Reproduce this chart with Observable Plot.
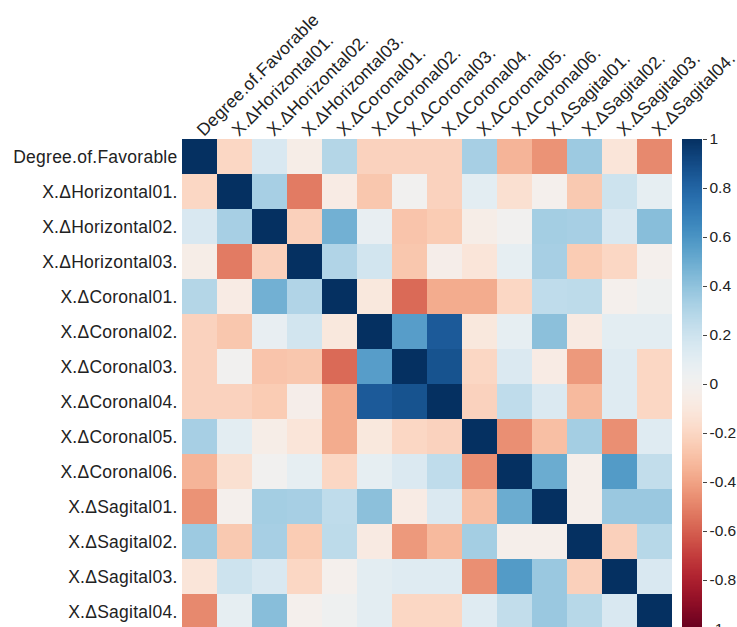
<!DOCTYPE html>
<html>
<head>
<meta charset="utf-8">
<script src="https://cdn.jsdelivr.net/npm/d3@7"></script>
<script src="https://cdn.jsdelivr.net/npm/@observablehq/plot@0.6"></script>
<style>
  html, body { margin: 0; padding: 0; background: #fff; overflow: hidden; }
  #wrap { position: relative; width: 737px; height: 627px; overflow: hidden; }
  #wrap svg { position: absolute; left: 0; top: 0; }
</style>
</head>
<body>
<div id="wrap"></div>
<script>
const variables = [
  "Degree.of.Favorable",
  "X.ΔHorizontal01.", "X.ΔHorizontal02.", "X.ΔHorizontal03.",
  "X.ΔCoronal01.", "X.ΔCoronal02.", "X.ΔCoronal03.", "X.ΔCoronal04.", "X.ΔCoronal05.", "X.ΔCoronal06.",
  "X.ΔSagital01.", "X.ΔSagital02.", "X.ΔSagital03.", "X.ΔSagital04."
];

const rowDegree       = [1, -0.2, 0.15, -0.05, 0.29, -0.22, -0.22, -0.22, 0.33, -0.34, -0.45, 0.36, -0.12, -0.48];
const rowHorizontal01 = [-0.2, 1, 0.33, -0.52, -0.07, -0.27, 0.01, -0.22, 0.1, -0.15, -0.02, -0.26, 0.2, 0.08];
const rowHorizontal02 = [0.15, 0.33, 1, -0.23, 0.48, 0.07, -0.28, -0.25, -0.05, 0.01, 0.34, 0.33, 0.15, 0.42];
const rowHorizontal03 = [-0.05, -0.52, -0.23, 1, 0.3, 0.18, -0.27, -0.04, -0.12, 0.08, 0.33, -0.25, -0.2, -0.02];
const rowCoronal01    = [0.29, -0.07, 0.48, 0.3, 1, -0.1, -0.57, -0.37, -0.37, -0.2, 0.25, 0.26, -0.02, 0.03];
const rowCoronal02    = [-0.22, -0.27, 0.07, 0.18, -0.1, 1, 0.56, 0.84, -0.1, 0.08, 0.41, -0.08, 0.1, 0.1];
const rowCoronal03    = [-0.22, 0.01, -0.28, -0.27, -0.57, 0.56, 1, 0.87, -0.2, 0.14, -0.07, -0.43, 0.12, -0.2];
const rowCoronal04    = [-0.22, -0.22, -0.25, -0.04, -0.37, 0.84, 0.87, 1, -0.22, 0.25, 0.14, -0.32, 0.12, -0.2];
const rowCoronal05    = [0.33, 0.1, -0.05, -0.12, -0.37, -0.1, -0.2, -0.22, 1, -0.46, -0.3, 0.34, -0.46, 0.12];
const rowCoronal06    = [-0.34, -0.15, 0.01, 0.08, -0.2, 0.08, 0.14, 0.25, -0.46, 1, 0.5, -0.03, 0.57, 0.24];
const rowSagital01    = [-0.45, -0.02, 0.34, 0.33, 0.25, 0.41, -0.07, 0.14, -0.3, 0.5, 1, -0.03, 0.37, 0.37];
const rowSagital02    = [0.36, -0.26, 0.33, -0.25, 0.26, -0.08, -0.43, -0.32, 0.34, -0.03, -0.03, 1, -0.23, 0.28];
const rowSagital03    = [-0.12, 0.2, 0.15, -0.2, -0.02, 0.1, 0.12, 0.12, -0.46, 0.57, 0.37, -0.23, 1, 0.15];
const rowSagital04    = [-0.48, 0.08, 0.42, -0.02, 0.03, 0.1, -0.2, -0.2, 0.12, 0.24, 0.37, 0.28, 0.15, 1];

const colorbarTicks = [1, 0.8, 0.6, 0.4, 0.2, 0, -0.2, -0.4, -0.6, -0.8, -1];

const rows = [rowDegree, rowHorizontal01, rowHorizontal02, rowHorizontal03,
  rowCoronal01, rowCoronal02, rowCoronal03, rowCoronal04, rowCoronal05, rowCoronal06,
  rowSagital01, rowSagital02, rowSagital03, rowSagital04];

const cells = [];
rows.forEach((vals, i) => vals.forEach((v, j) => cells.push({row: variables[i], col: variables[j], r: v})));

const FONT = "'Liberation Sans', Arial, Helvetica, sans-serif";
const colorScale = {type: "linear", scheme: "rdbu", domain: [-1, 1]};

const heat = Plot.plot({
  width: 737,
  height: 629,
  marginLeft: 182,
  marginRight: 65,
  marginTop: 139,
  marginBottom: 0,
  style: {fontFamily: FONT, background: "transparent", color: "#222", letterSpacing: "0.25px"},
  x: {domain: variables, padding: 0, axis: null},
  y: {domain: variables, padding: 0, axis: null},
  color: colorScale,
  marks: [
    Plot.cell(cells, {x: "col", y: "row", fill: "r", inset: 0, shapeRendering: "crispEdges"}),
    Plot.text(variables, {
      y: d => d, text: d => d, frameAnchor: "left", textAnchor: "end", dx: -5,
      fontSize: 17.5, fill: "#222"
    }),
    Plot.text(variables, {
      x: d => d, text: d => d, frameAnchor: "top", textAnchor: "start", lineAnchor: "bottom",
      rotate: -45, dy: -2.5, dx: 4, fontSize: 17.5, fill: "#222"
    })
  ]
});

const stops = d3.range(-1, 1, 0.005);
const bar = Plot.plot({
  width: 737,
  height: 629,
  marginLeft: 682,
  marginRight: 35,
  marginTop: 139,
  marginBottom: 0,
  style: {fontFamily: FONT, background: "transparent", color: "#222"},
  x: {domain: [0, 1], axis: null},
  y: {domain: [-1, 1], axis: null},
  color: colorScale,
  marks: [
    Plot.rect(stops, {x1: 0, x2: 1, y1: d => d, y2: d => Math.min(1, d + 0.0075), fill: d => d + 0.0025, shapeRendering: "crispEdges"}),
    Plot.axisY({anchor: "right", ticks: colorbarTicks, tickSize: 4, tickPadding: 3,
      tickFormat: d => String(d), fontSize: 15.5, stroke: "#444", fill: "#222"})
  ]
});

const wrap = document.getElementById("wrap");
wrap.appendChild(heat);
wrap.appendChild(bar);
</script>
</body>
</html>
